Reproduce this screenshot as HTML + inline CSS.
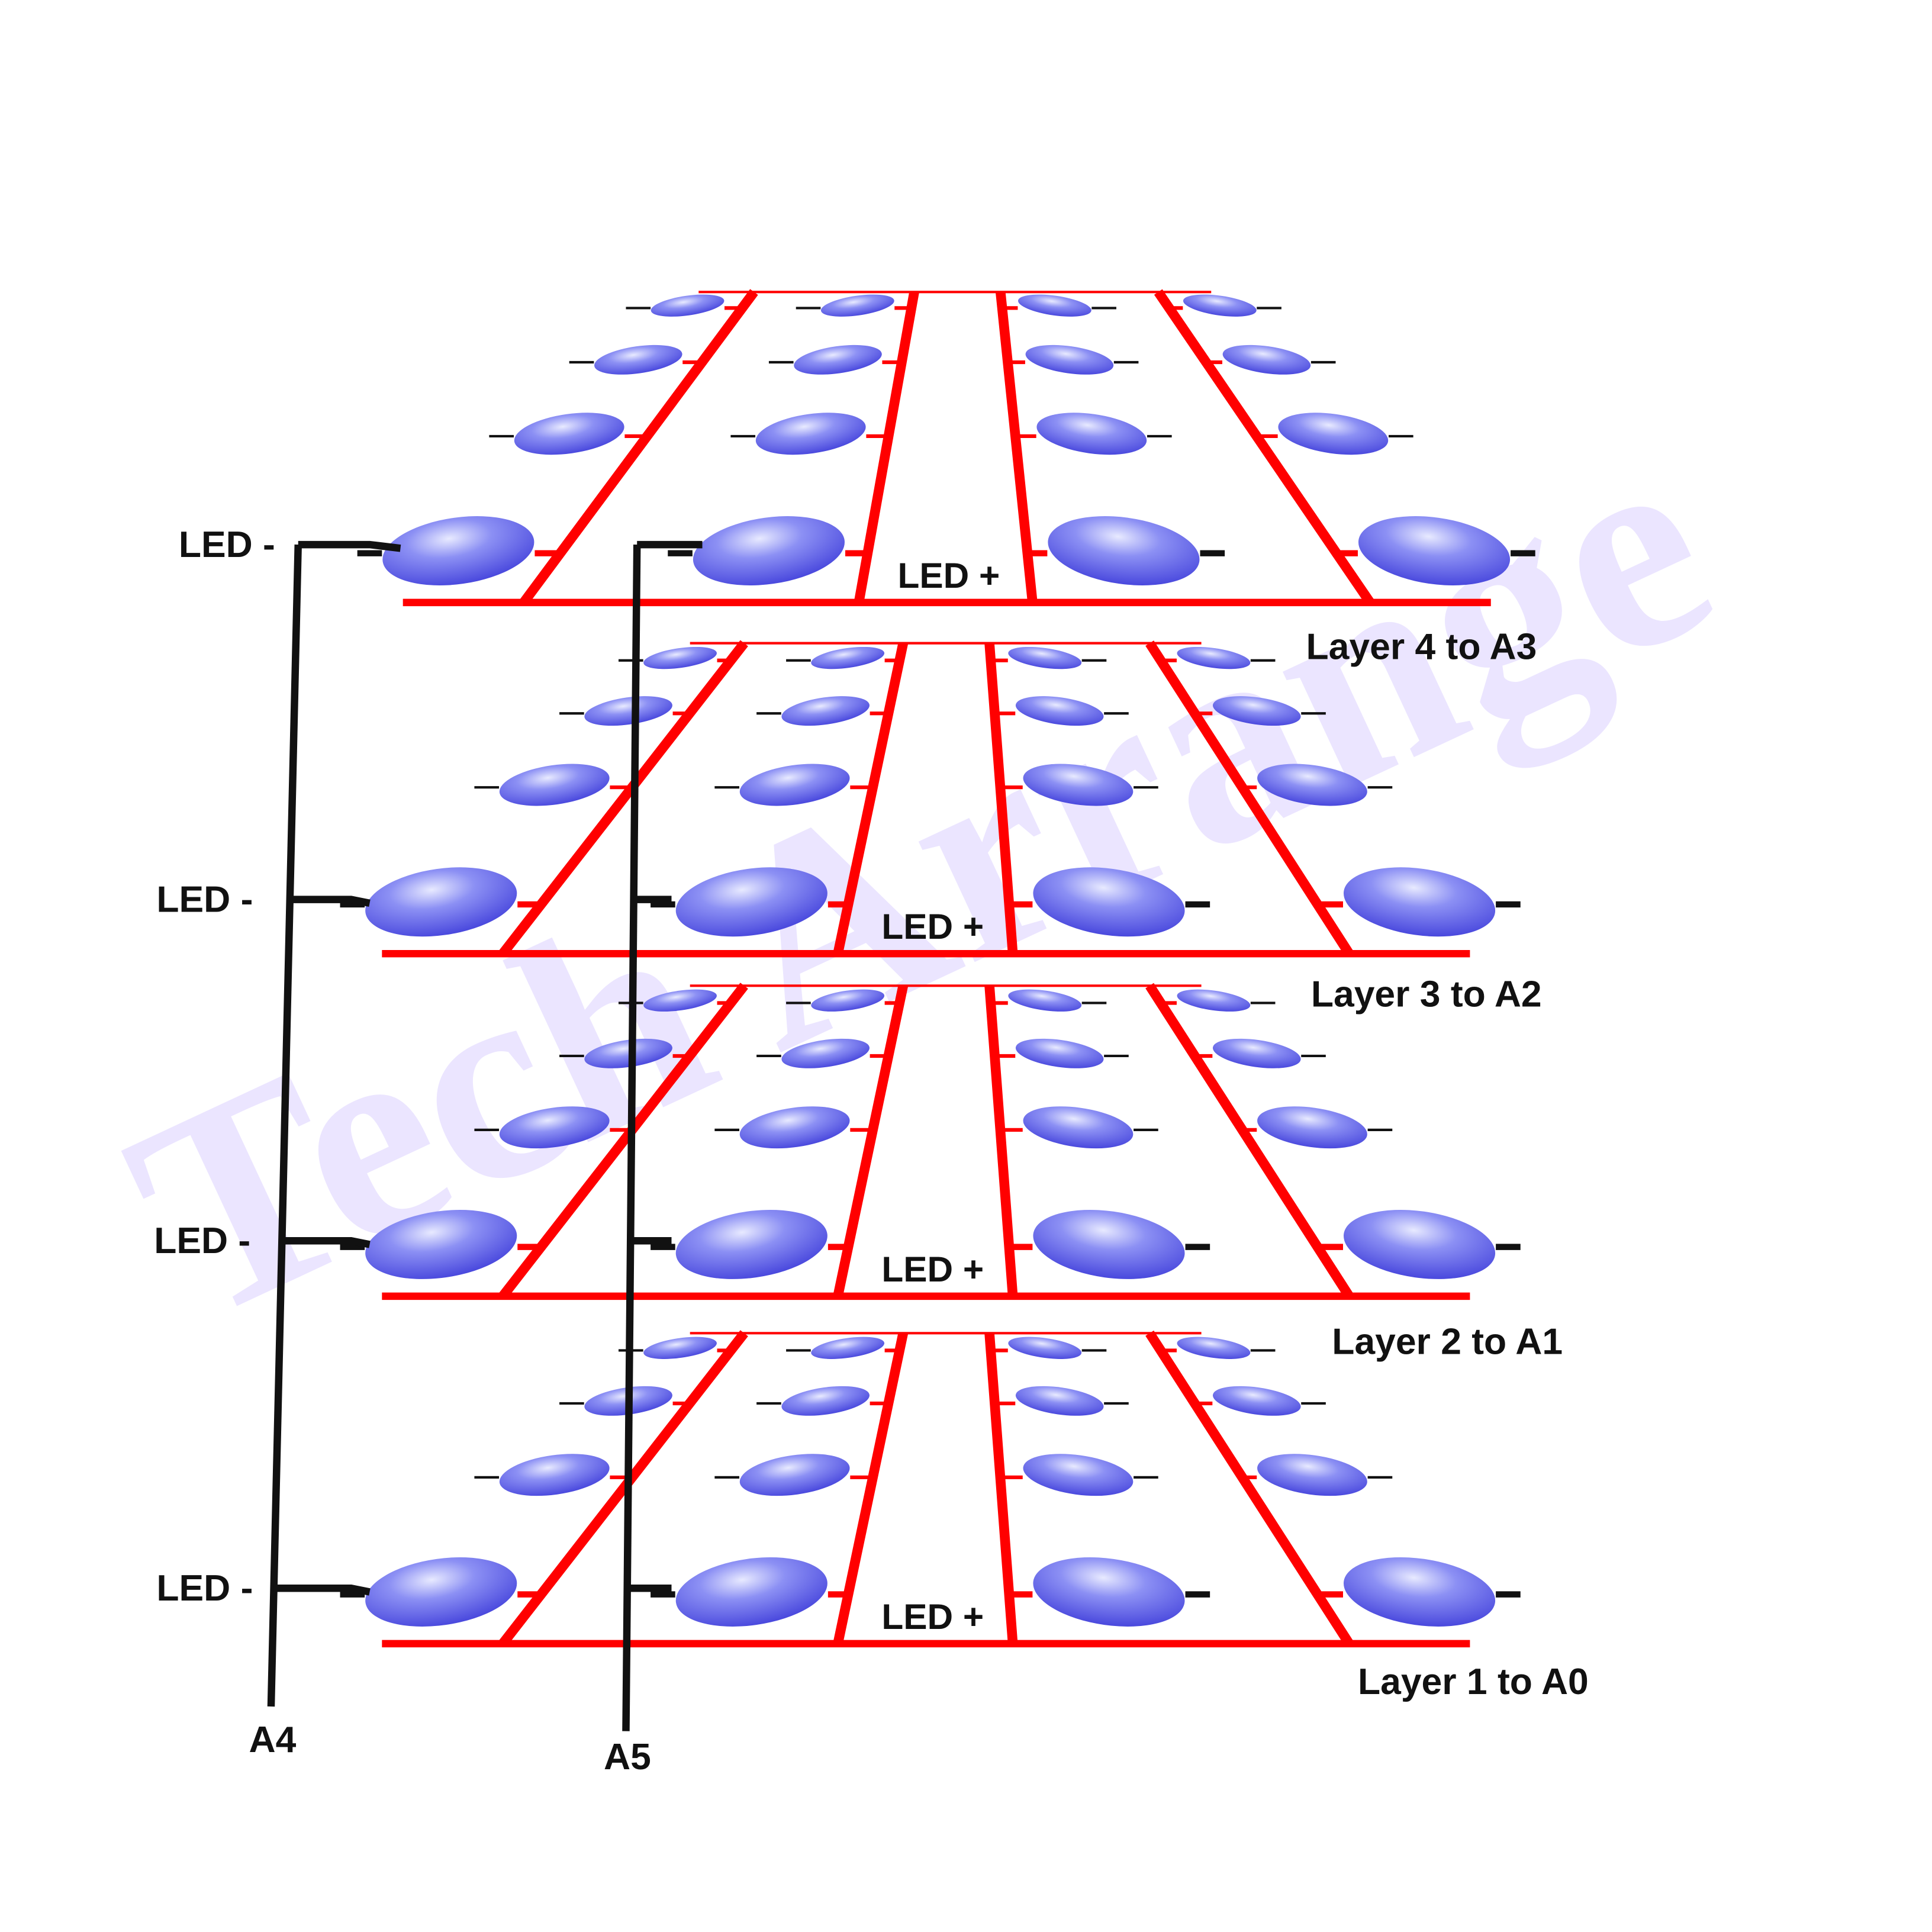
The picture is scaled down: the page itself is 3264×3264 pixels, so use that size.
<!DOCTYPE html>
<html><head><meta charset="utf-8">
<style>
html,body{margin:0;padding:0;background:#fff;}
svg{display:block;}
text{font-family:"Liberation Sans",sans-serif;font-weight:bold;}
</style></head>
<body>
<svg id="cv" width="3264" height="3264" viewBox="0 0 1568 1568" xmlns="http://www.w3.org/2000/svg">
<defs>
<radialGradient id="ledg" cx="0.45" cy="0.3" r="0.8">
<stop offset="0" stop-color="#e8eaff"/>
<stop offset="0.35" stop-color="#8c90f4"/>
<stop offset="1" stop-color="#3a38d8"/>
</radialGradient>
</defs>
<text x="0" y="0" font-size="235" fill="#ebe5ff" transform="translate(160,1075) rotate(-25)" style="font-family:'Liberation Serif',serif;font-weight:bold">Tech Arrange</text>
<g id="layers"></g>
<g id="wires"></g>
</svg>
<script>
const layerNames = ["Layer 4 to A3","Layer 3 to A2","Layer 2 to A1","Layer 1 to A0"];
const layerTops = [237,522,800,1082];
const layerBottoms = [489,774,1052,1334];
const ledWireYs = [442,730,1007,1289];
const ns="http://www.w3.org/2000/svg";
const L=document.getElementById('layers');
const W=document.getElementById('wires');
function mk(tag,attrs,parent){const e=document.createElementNS(ns,tag);for(const k in attrs)e.setAttribute(k,attrs[k]);parent.appendChild(e);return e;}
const red="#ff0000";
layerTops.forEach((t,i)=>{
  const b=layerBottoms[i];
  const top4=i===0;
  const g=mk('g',{},L);
  
  
  const tx0=top4?567:560, tx1=top4?983:975, bx0=top4?327:310, bx1=top4?1210:1193;
  const rails=top4?[[612,425],[742,697],[812,838],[940,1112]]:[[604,408],[733,680],[803,822],[933,1095]];
  mk('line',{x1:tx0,y1:t,x2:tx1,y2:t,stroke:red,'stroke-width':2},g);
  mk('line',{x1:bx0,y1:b,x2:bx1,y2:b,stroke:red,'stroke-width':6},g);
  rails.forEach(r=>mk('line',{x1:r[0],y1:t,x2:r[1],y2:b,stroke:red,'stroke-width':8},g));
  const offs=top4?[11,55,115,210]:[12,55,115,210];
  const xs=top4?[[558,696,856,990],[518,680,868,1028],[462,658,886,1082],[372,624,912,1164]]
               :[[552,688,848,985],[510,670,860,1020],[450,645,875,1065],[358,610,900,1152]];
  const rx=[30,36,45,62], ry=[8,11,16,27];
  offs.forEach((o,ri)=>{
    const y=t+o;
    const f=(o)/(b-t);
    xs[ri].forEach((x,ci)=>{
      const rl=rails[ci];
      const rxr=rl[0]+(rl[1]-rl[0])*f;
      const left=ci<2;
      const leadX=left?x-rx[ri]-20:x+rx[ri]+20;
      mk('line',{x1:left?x-rx[ri]:x+rx[ri],y1:y+2,x2:leadX,y2:y+2,stroke:'#111','stroke-width':ri===3?5:2},g);
      const ex=left?x+rx[ri]:x-rx[ri];
      mk('line',{x1:ex,y1:y+2,x2:rxr,y2:y+2,stroke:red,'stroke-width':ri===3?5:3},g);
      const e=mk('ellipse',{cx:x,cy:y,rx:rx[ri],ry:ry[ri],fill:'url(#ledg)',transform:`rotate(${left?-8:8} ${x} ${y})`},g);
      
      
    });
  });
  const p=mk('text',{x:top4?770:757,y:b-12,'font-size':29,'text-anchor':'middle',fill:'#111'},g);
  p.textContent='LED +';
  
  
  const lx=[1060,1064,1081,1102][i], ly=[535,817,1099,1375][i];
  const ln=mk('text',{x:lx,y:ly,'font-size':30,fill:'#111'},g);
  ln.textContent=layerNames[i];
  
  
  const mx=[145,127,125,127][i];
  const m=mk('text',{x:mx,y:ledWireYs[i]+10,'font-size':30,fill:'#111'},g);
  m.textContent='LED -';
  
  
});
const a4=mk('line',{x1:242,y1:442,x2:220,y2:1385,stroke:'#111','stroke-width':6},W);


const a5=mk('line',{x1:517,y1:442,x2:508,y2:1405,stroke:'#111','stroke-width':6},W);


ledWireYs.forEach((y,i)=>{
  const f=(y-442)/(1385-442);
  const x4=242-22*f;
  mk('polyline',{points:`${x4},${y} ${i===0?300:285},${y} ${i===0?325:300},${y+3}`,stroke:'#111','stroke-width':6,fill:'none'},W);
  const f5=(y-442)/(1405-442);
  const x5=517-9*f5;
  mk('polyline',{points:`${x5},${y} ${i===0?570:545},${y}`,stroke:'#111','stroke-width':6,fill:'none'},W);
});
const t4=mk('text',{x:202,y:1422,'font-size':30,fill:'#111'},W);
t4.textContent='A4';


const t5=mk('text',{x:490,y:1436,'font-size':30,fill:'#111'},W);
t5.textContent='A5';


</script>
</body></html>
